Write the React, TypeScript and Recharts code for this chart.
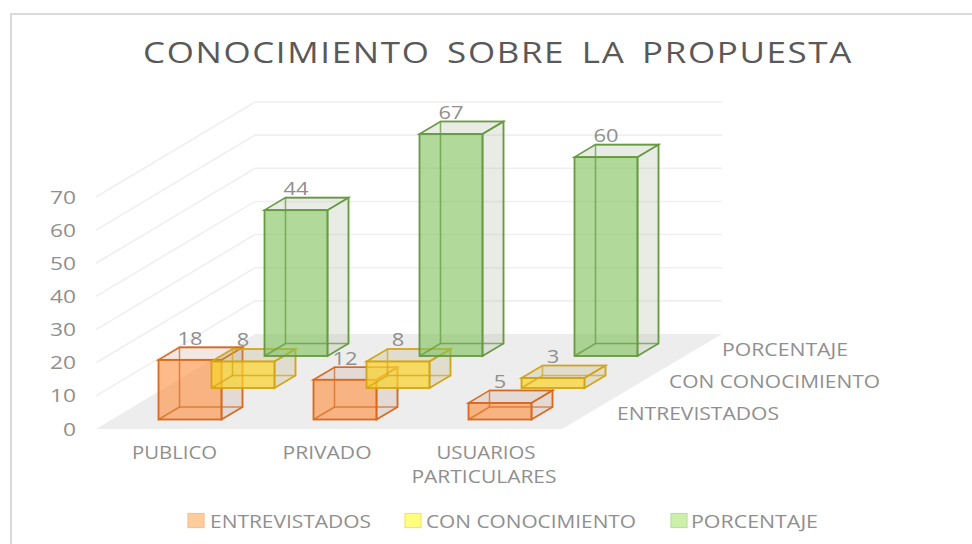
import React from 'react';
import { BarChart, Bar, XAxis, YAxis, CartesianGrid, Legend } from 'recharts';

const categories = ['PUBLICO', 'PRIVADO', 'USUARIOS PARTICULARES'];
const entrevistados = [18, 12, 5];
const conConocimiento = [8, 8, 3];
const porcentaje = [44, 67, 60];
const yTicks = [0, 10, 20, 30, 40, 50, 60, 70];
const titleText = 'CONOCIMIENTO SOBRE LA PROPUESTA';

const data = categories.map((name, i) => ({
  name,
  ENTREVISTADOS: entrevistados[i],
  'CON CONOCIMIENTO': conConocimiento[i],
  PORCENTAJE: porcentaje[i],
}));

const FONT = '"Open Sans", sans-serif';
const TICK = '#8f8f8f';
const DX = 21;
const DY = 12.5;
const WIDEN = 10;

const series = [
  { key: 'ENTREVISTADOS', lift: 9.5, front: 'rgba(255,140,60,0.6)', edge: '#D8691F', side: 'rgba(190,150,130,0.22)', swatch: '#FFCC9C', swatchEdge: '#FBBF8C', depthLen: 162, depthX: 617, depthY: 420, legendX: 188, legendTextX: 210, legendText: 161 },
  { key: 'CON CONOCIMIENTO', lift: 41, front: 'rgba(250,210,45,0.72)', edge: '#D3A514', side: 'rgba(190,175,120,0.26)', swatch: '#FFFF80', swatchEdge: '#F8E070', depthLen: 211, depthX: 669, depthY: 388, legendX: 405, legendTextX: 426, legendText: 210 },
  { key: 'PORCENTAJE', lift: 73, front: 'rgba(130,195,95,0.63)', edge: '#679A42', side: 'rgba(170,185,155,0.27)', swatch: '#CCF0AA', swatchEdge: '#BCDFA0', depthLen: 126, depthX: 722, depthY: 356, legendX: 671, legendTextX: 691, legendText: 127 },
];

function Label({ x, y, len, size = 18, fill = TICK, anchor = 'start', spacing = 0, wordSpacing = 0, children }: any) {
  return (
    <text x={x} y={y} fontFamily={FONT} fontSize={size} fill={fill} textAnchor={anchor} textLength={len} lengthAdjust="spacingAndGlyphs" letterSpacing={spacing} wordSpacing={wordSpacing}>
      {children}
    </text>
  );
}

const makeBox = (s: (typeof series)[number]) => (props: any) => {
  const { x, y, width, height, payload } = props;
  const left = x - WIDEN;
  const w = width + 2 * WIDEN;
  const top = y - s.lift;
  const base = y + height - s.lift;
  const right = left + w;
  const value = String(payload[s.key]);
  return (
    <g>
      <path d={`M${right} ${top}L${right + DX} ${top - DY}V${base - DY}L${right} ${base}Z`} fill={s.side} stroke={s.edge} strokeWidth={1.6} />
      <path d={`M${left} ${top}L${left + DX} ${top - DY}H${right + DX}L${right} ${top}Z`} fill={s.side} stroke={s.edge} strokeWidth={1.6} />
      <rect x={left} y={top} width={w} height={base - top} fill={s.front} stroke={s.edge} strokeWidth={1.8} />
      <rect x={left + DX} y={top - DY} width={w} height={base - top} fill="none" stroke={s.edge} strokeWidth={1.5} strokeOpacity={0.75} />
      <path d={`M${left} ${base}L${left + DX} ${base - DY}`} stroke={s.edge} strokeWidth={1.5} strokeOpacity={0.75} fill="none" />
      <Label x={left + w / 2} y={top - DY - 2.5} len={value.length * 12.5} anchor="middle">{value}</Label>
    </g>
  );
};

const wallLine = (props: any) => {
  const y = props.y1;
  const isFloor = Math.abs(y - 429) < 1;
  return (
    <g key={`wall-${y}`}>
      {isFloor ? (
        <polygon points="96,429 562,429 722,334 255,334" fill="#EDEDED" />
      ) : (
        <path d={`M96 ${y}L255 ${y - 95}H722`} fill="none" stroke="#EFEFEF" strokeWidth={1.6} />
      )}
    </g>
  );
};

const YTick = ({ y, payload }: any) => {
  const t = String(payload.value);
  return <Label x={76} y={y + 6.5} len={t.length * 13} anchor="end">{t}</Label>;
};

const CAT_LINES: Record<string, { text: string; cx: number; len: number }[]> = {
  PUBLICO: [{ text: 'PUBLICO', cx: 0, len: 85 }],
  PRIVADO: [{ text: 'PRIVADO', cx: -2.5, len: 89 }],
  'USUARIOS PARTICULARES': [
    { text: 'USUARIOS', cx: 1.5, len: 99 },
    { text: 'PARTICULARES', cx: -0.5, len: 145 },
  ],
};

const XTick = ({ x, payload }: any) => (
  <g>
    {CAT_LINES[payload.value].map((l, i) => (
      <Label key={l.text} x={x - 68.5 + l.cx} y={459 + i * 24} len={l.len} anchor="middle">{l.text}</Label>
    ))}
  </g>
);

const LegendContent = () => (
  <svg width={972} height={40} style={{ position: 'absolute', left: 0, top: 0, overflow: 'visible' }}>
    {series.map((s) => (
      <g key={s.key}>
        <rect x={s.legendX} y={8.5} width={16} height={14} fill={s.swatch} stroke={s.swatchEdge} strokeWidth={1.2} />
        <Label x={s.legendTextX} y={23} len={s.legendText}>{s.key}</Label>
      </g>
    ))}
  </svg>
);

export default function App() {
  return (
    <div style={{ position: 'absolute', left: 0, top: 0, width: 972, height: 544, background: '#fff', overflow: 'hidden' }}>
      <div style={{ position: 'absolute', left: 10, top: 13, width: 970, height: 540, borderLeft: '2px solid #DADADA', borderTop: '2px solid #DADADA', boxSizing: 'border-box' }} />
      <div style={{ position: 'absolute', left: 0, top: 0 }}>
        <BarChart width={972} height={544} data={data} barSize={43} barGap={10} margin={{ top: 197, right: 341.5, bottom: 0, left: 0 }}>
          <CartesianGrid vertical={false} horizontal={wallLine as any} />
          <XAxis dataKey="name" height={115} axisLine={false} tickLine={false} tick={XTick as any} interval={0} />
          <YAxis width={165.5} domain={[0, 70]} ticks={yTicks} axisLine={false} tickLine={false} tick={YTick as any} interval={0} />
          <Legend wrapperStyle={{ position: 'absolute', left: 0, top: 505, width: 972, height: 0 }} content={LegendContent as any} />
          {series.map((s) => (
            <Bar key={s.key} dataKey={s.key} name={s.key} fill={s.swatch} isAnimationActive={false} shape={makeBox(s) as any} />
          ))}
          <Label x={143} y={62.5} len={710} size={29.5} fill="#595959" spacing={1.4} wordSpacing={5}>{titleText}</Label>
          {series.map((s) => (
            <Label key={s.key} x={s.depthX} y={s.depthY} len={s.depthLen}>{s.key}</Label>
          ))}
        </BarChart>
      </div>
    </div>
  );
}
